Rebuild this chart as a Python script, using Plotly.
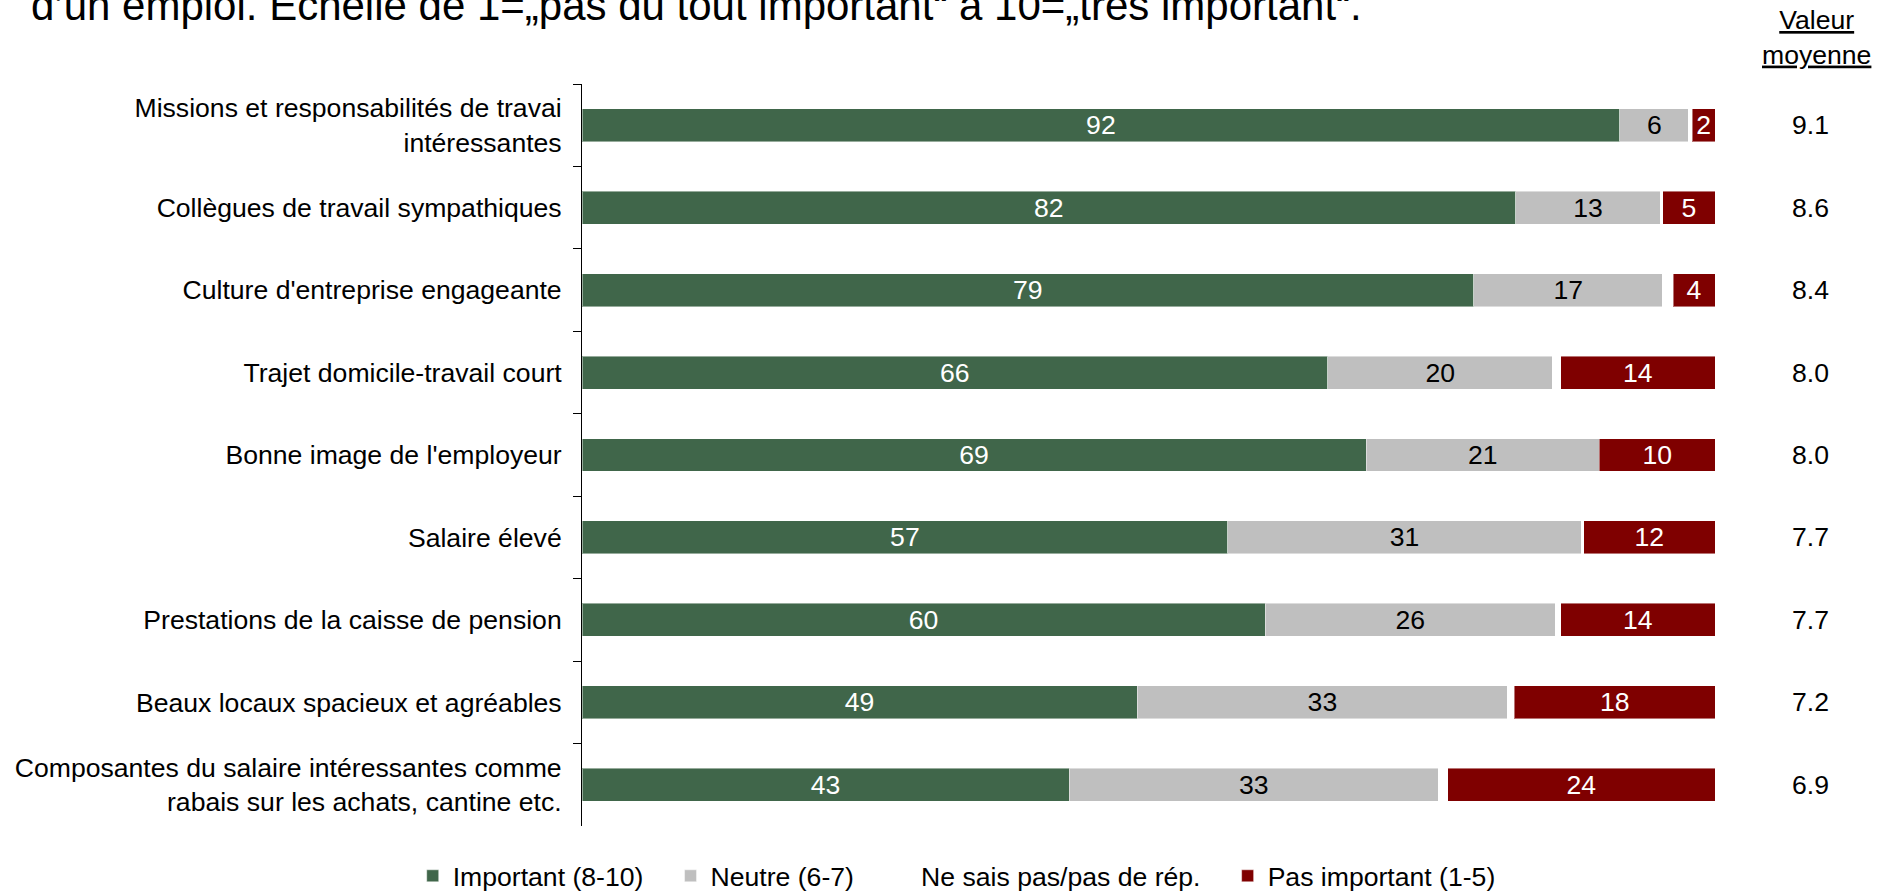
import plotly.graph_objects as go

categories = [
    "Missions et responsabilités de travai<br>intéressantes",
    "Collègues de travail sympathiques",
    "Culture d'entreprise engageante",
    "Trajet domicile-travail court",
    "Bonne image de l'employeur",
    "Salaire élevé",
    "Prestations de la caisse de pension",
    "Beaux locaux spacieux et agréables",
    "Composantes du salaire intéressantes comme<br>rabais sur les achats, cantine etc.",
]
important = [91.6, 82.4, 78.7, 65.8, 69.2, 57.0, 60.3, 49.0, 43.0]
neutre = [6.1, 12.8, 16.7, 19.9, 20.6, 31.2, 25.6, 32.7, 32.6]
ne_sais_pas = [0.3, 0.2, 0.9, 0.7, 0.0, 0.2, 0.5, 0.6, 0.8]
pas_important = [2.0, 4.6, 3.7, 13.6, 10.2, 11.6, 13.6, 17.7, 23.6]
valeur_moyenne = [9.1, 8.6, 8.4, 8.0, 8.0, 7.7, 7.7, 7.2, 6.9]

series_names = ["Important (8-10)", "Neutre (6-7)", "Ne sais pas/pas de rép.", "Pas important (1-5)"]
title_text = "d’un emploi. Echelle de 1=„pas du tout important“ à 10=„très important“."

FONT = "Liberation Sans, Arial, sans-serif"
FS = 26.6
GREEN = "#40664A"
GRAY = "#BFBFBF"
RED = "#7F0000"
SPACER = "\u00a0" * 3

fig = go.Figure()
specs = [
    (series_names[0] + SPACER, important, GREEN, "white", True),
    (series_names[1] + SPACER, neutre, GRAY, "black", True),
    (series_names[2] + SPACER, ne_sais_pas, "white", "black", False),
    (series_names[3], pas_important, RED, "white", True),
]
for name, vals, color, tcolor, show_text in specs:
    fig.add_trace(go.Bar(
        name=name,
        y=categories,
        x=vals,
        orientation="h",
        marker=dict(color=color,
                    line=dict(color="rgba(255,255,255,0.45)" if color != "white" else "white", width=1)),
        texttemplate="%{x:.0f}" if show_text else None,
        textposition="inside" if show_text else "none",
        insidetextanchor="middle",
        constraintext="none",
        textangle=0,
        textfont=dict(family=FONT, size=FS, color=tcolor),
        hoverinfo="skip",
    ))

L, R, T, B = 582, 172, 84, 65
W, H = 1887, 891
plot_w = W - L - R
plot_h = H - T - B

annotations = []
for cat, v in zip(categories, valeur_moyenne):
    annotations.append(dict(
        x=(1810 - L) / plot_w, xref="x domain", y=cat, yref="y",
        text=f"{v:.1f}", showarrow=False, xanchor="center", yanchor="middle",
        font=dict(family=FONT, size=FS, color="black"),
    ))

annotations.append(dict(
    x=(1816 - L) / plot_w, xref="x domain", y=1 + (T - 37) / plot_h,
    yref="y domain",
    text="<u>Valeur</u><br><u>moyenne</u>", showarrow=False, xanchor="center", yanchor="middle",
    font=dict(family=FONT, size=FS, color="black"),
))

fig.update_layout(
    width=W, height=H,
    margin=dict(l=L, r=R, t=T, b=B),
    barmode="stack",
    bargap=0.6,
    plot_bgcolor="white",
    paper_bgcolor="white",
    font=dict(family=FONT, size=FS, color="black"),
    title=dict(text=title_text, x=31 / W, xanchor="left", xref="container",
               y=1 - 5 / H, yanchor="middle", yref="container",
               font=dict(family=FONT, size=42, color="black")),
    showlegend=True,
    legend=dict(orientation="h", traceorder="normal",
                xref="container", x=0.507, xanchor="center",
                yref="container", y=1 - 876 / H, yanchor="middle",
                font=dict(family=FONT, size=FS, color="black"),
                itemclick=False, itemdoubleclick=False),
    xaxis=dict(range=[0, 100], visible=False, fixedrange=True),
    yaxis=dict(type="category", autorange="reversed", showline=True, linecolor="black", linewidth=1,
               ticks="outside", tickson="boundaries", ticklen=8, tickcolor="black", tickwidth=1,
               showgrid=False, zeroline=False, ticklabelstandoff=14,
               tickfont=dict(family=FONT, size=FS, color="black"), fixedrange=True),
    annotations=annotations,
)

fig.write_html("out.html", config={"displayModeBar": False},
               post_script="document.body.style.margin='0px';document.body.style.overflow='hidden';")
